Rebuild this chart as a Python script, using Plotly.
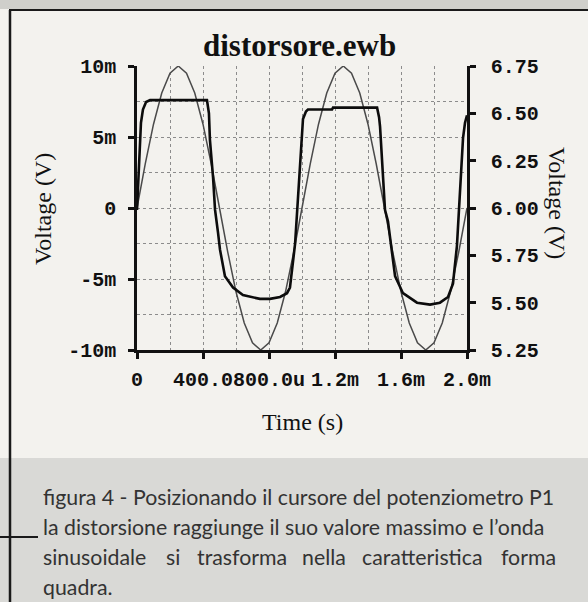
import plotly.graph_objects as go

# ---- data -------------------------------------------------------------
# input sine (left axis, mV) sampled every 50 us over 2 ms
sine_t = [0.00, 0.05, 0.10, 0.15, 0.20, 0.25, 0.30, 0.35, 0.40, 0.45,
          0.50, 0.55, 0.60, 0.65, 0.70, 0.75, 0.80, 0.85, 0.90, 0.95,
          1.00, 1.05, 1.10, 1.15, 1.20, 1.25, 1.30, 1.35, 1.40, 1.45,
          1.50, 1.55, 1.60, 1.65, 1.70, 1.75, 1.80, 1.85, 1.90, 1.95, 2.00]
sine_mv = [0.0, 3.1, 5.9, 8.1, 9.5, 10.0, 9.5, 8.1, 5.9, 3.1,
           0.0, -3.1, -5.9, -8.1, -9.5, -10.0, -9.5, -8.1, -5.9, -3.1,
           0.0, 3.1, 5.9, 8.1, 9.5, 10.0, 9.5, 8.1, 5.9, 3.1,
           0.0, -3.1, -5.9, -8.1, -9.5, -10.0, -9.5, -8.1, -5.9, -3.1, 0.0]

# distorted output (right axis, V)
out_t = [0.000, 0.012, 0.024, 0.036, 0.055, 0.079, 0.424, 0.436, 0.442,
         0.461, 0.473, 0.491, 0.503, 0.533, 0.582, 0.642, 0.745, 0.806,
         0.867, 0.909, 0.927, 0.958, 0.976, 0.988, 1.006, 1.024, 1.036,
         1.182, 1.188, 1.455, 1.467, 1.473, 1.491, 1.503, 1.521, 1.545,
         1.564, 1.612, 1.697, 1.776, 1.836, 1.885, 1.915, 1.939, 1.952,
         1.962, 1.976, 1.988, 2.000]
out_v = [5.99, 6.20, 6.45, 6.52, 6.56, 6.57, 6.57, 6.50, 6.36,
         6.16, 5.99, 5.87, 5.78, 5.64, 5.58, 5.54, 5.52, 5.52,
         5.53, 5.55, 5.58, 5.81, 6.04, 6.20, 6.47, 6.51, 6.52,
         6.52, 6.53, 6.53, 6.48, 6.43, 6.16, 5.99, 5.93, 5.78,
         5.64, 5.55, 5.50, 5.49, 5.50, 5.53, 5.60, 5.80, 6.00,
         6.22, 6.37, 6.45, 6.49]

x_tickvals = [0.0, 0.4, 0.8, 1.2, 1.6, 2.0]
x_ticktext = ["0", "400.0", "800.0u", "1.2m", "1.6m", "2.0m"]
x_minor = [0.2, 0.6, 1.0, 1.4, 1.8]

yl_tickvals = [-10, -5, 0, 5, 10]
yl_ticktext = ["-10m", "-5m", "0", "5m", "10m"]
yl_minor = [-7.5, -2.5, 2.5, 7.5]

yr_tickvals = [5.25, 5.50, 5.75, 6.00, 6.25, 6.50, 6.75]
yr_ticktext = ["5.25", "5.50", "5.75", "6.00", "6.25", "6.50", "6.75"]

caption_l1 = "figura 4 - Posizionando il cursore del potenziometro P1"
caption_l2 = "la distorsione raggiunge il suo valore massimo e l\u2019onda"
caption_l3 = ["sinusoidale", "si", "trasforma", "nella", "caratteristica", "forma"]
caption_l3_x = [41, 164, 195, 300, 360, 499]
caption_l4 = "quadra."

# ---- geometry helpers (pixel -> paper) ---------------------------------
W, H = 588, 602
L, R, T, B = 137, 467, 66, 350


def px(x):
    return (x - L) / (R - L)


def py(y):
    return (B - y) / (B - T)


PAPER = "#f3f2ee"
INK = "#111111"
GRID = "#8c8c8c"
tick_font = dict(family="Liberation Mono", size=20, color=INK, weight="bold")
serif = "Liberation Serif"

fig = go.Figure()
fig.add_trace(go.Scatter(x=sine_t, y=sine_mv, mode="lines",
                         line=dict(color="#4a4a4a", width=1.5),
                         yaxis="y", showlegend=False))
fig.add_trace(go.Scatter(x=out_t, y=out_v, mode="lines",
                         line=dict(color="#0c0c0c", width=2.6),
                         yaxis="y2", showlegend=False))

grid_common = dict(showgrid=True, gridcolor=GRID, gridwidth=1, griddash="dot")

fig.update_layout(
    width=W, height=H,
    margin=dict(l=L, r=W - R, t=T, b=H - B, pad=0),
    paper_bgcolor=PAPER, plot_bgcolor=PAPER,
    showlegend=False,
    xaxis=dict(range=[0, 2.0], tickmode="array", tickvals=x_tickvals,
               ticktext=x_ticktext, tickangle=0, tickfont=tick_font,
               ticks="outside", ticklen=6, tickwidth=2.5, tickcolor=INK,
               ticklabelstandoff=3,
               showline=True, linecolor=INK, linewidth=2.5, zeroline=False,
               minor=dict(tickmode="array", tickvals=x_minor, ticks="",
                          **grid_common),
               **grid_common),
    yaxis=dict(range=[-10, 10], tickmode="array", tickvals=yl_tickvals,
               ticktext=yl_ticktext, tickfont=tick_font,
               ticks="outside", ticklen=6, tickwidth=2.5, tickcolor=INK,
               ticklabelstandoff=8,
               showline=True, linecolor=INK, linewidth=2.5, zeroline=False,
               minor=dict(tickmode="array", tickvals=yl_minor, ticks="",
                          **grid_common),
               **grid_common),
    yaxis2=dict(range=[5.25, 6.75], overlaying="y", side="right",
                tickmode="array", tickvals=yr_tickvals, ticktext=yr_ticktext,
                tickfont=tick_font, ticks="outside", ticklen=6, tickwidth=2.5,
                tickcolor=INK, ticklabelstandoff=11,
                showline=True, linecolor=INK, linewidth=2.5,
                showgrid=False, zeroline=False),
)

shapes = [
    # caption band
    dict(type="rect", xref="paper", yref="paper", x0=px(0), x1=px(W),
         y0=py(458), y1=py(H), fillcolor="#d9d9d6", line=dict(width=0),
         layer="below"),
    # strip of the facing page at the top
    dict(type="rect", xref="paper", yref="paper", x0=px(0), x1=px(W),
         y0=py(0), y1=py(9), fillcolor="#cfcfcb", line=dict(width=0),
         layer="below"),
    # box frame: top edge
    dict(type="line", xref="paper", yref="paper", x0=px(9), x1=px(W),
         y0=py(10), y1=py(10), line=dict(color="#1a1a1a", width=2)),
    # box frame: left edge
    dict(type="line", xref="paper", yref="paper", x0=px(10), x1=px(10),
         y0=py(10), y1=py(H), line=dict(color="#1a1a1a", width=2.5)),
    # small rule on the left of the caption
    dict(type="line", xref="paper", yref="paper", x0=px(0), x1=px(38),
         y0=py(537), y1=py(537), line=dict(color="#1a1a1a", width=2)),
]

ann = [
    dict(text="distorsore.ewb", x=px(299), y=py(45), xanchor="center",
         yanchor="middle", font=dict(family=serif, size=31, color=INK,
                                     weight="bold")),
    dict(text="Voltage (V)", x=px(43), y=py(209), textangle=-90,
         xanchor="center", yanchor="middle",
         font=dict(family=serif, size=24, color=INK)),
    dict(text="Voltage (V)", x=px(557), y=py(203), textangle=90,
         xanchor="center", yanchor="middle",
         font=dict(family=serif, size=24, color=INK)),
    dict(text="Time (s)", x=px(302), y=py(422), xanchor="center",
         yanchor="middle", font=dict(family=serif, size=24, color=INK)),
]

cap_font = dict(family="Lato", size=21.3, color="#333333")
for txt, yy in [(caption_l1, 497), (caption_l2, 527), (caption_l4, 587)]:
    ann.append(dict(text=txt, x=px(41), y=py(yy), xanchor="left",
                    yanchor="middle", font=cap_font))
# the third line is spread across the full column width
for word, xx in zip(caption_l3, caption_l3_x):
    ann.append(dict(text=word, x=px(xx), y=py(557), xanchor="left",
                    yanchor="middle", font=cap_font))

for a in ann:
    a.update(xref="paper", yref="paper", showarrow=False)

fig.update_layout(shapes=shapes, annotations=ann)
fig.write_html("out.html")
